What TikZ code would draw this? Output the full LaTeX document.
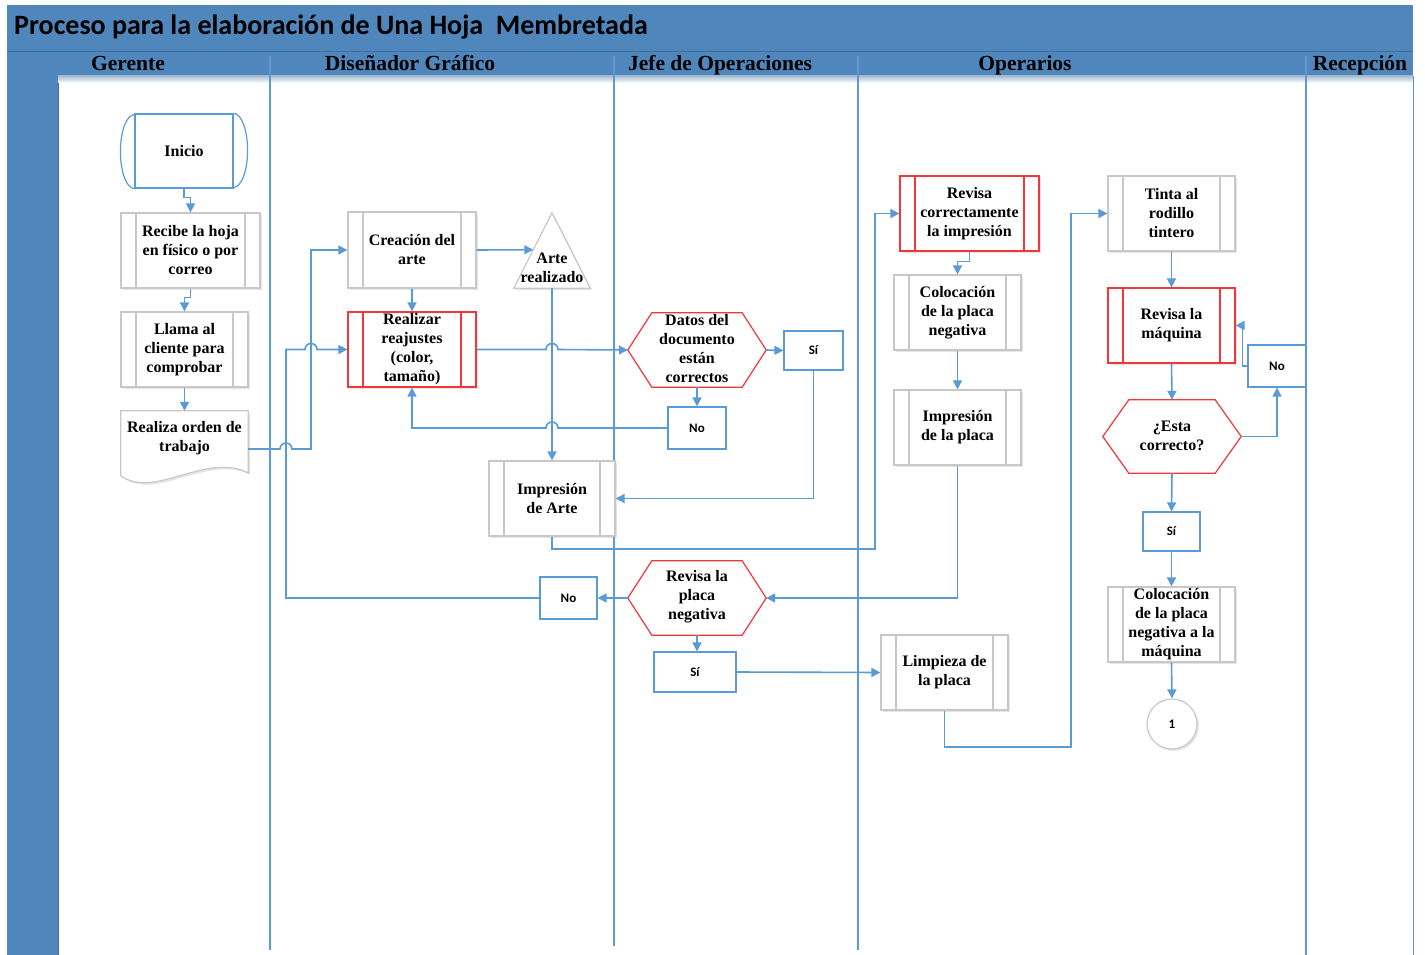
\documentclass[tikz,border=0pt]{standalone}
\usepackage{fontspec}
\setmainfont{Liberation Serif}
\newfontfamily\titlefont{Carlito}
\usetikzlibrary{arrows.meta,shadows,calc}

\definecolor{band}{HTML}{4F87BD}
\definecolor{bandline}{HTML}{3E6F9F}
\definecolor{flow}{HTML}{5B9BD5}
\definecolor{boxline}{HTML}{C8C8C8}
\definecolor{alert}{HTML}{F2363A}

\tikzset{
  x=1pt, y=-1pt,
  every node/.style={inner sep=0pt, align=center},
  txt/.style={font=\bfseries\fontsize{16}{19}\selectfont},
  small/.style={font=\titlefont\bfseries\fontsize{13}{14}\selectfont},
  lanehead/.style={font=\bfseries\fontsize{21.5}{22}\selectfont, anchor=base},
  lane/.style={draw=flow, line width=1.3pt},
  bar colour/.store in=\barcol, bar colour=boxline,
  shade box/.style={drop shadow={shadow xshift=2pt, shadow yshift=-2pt, opacity=0.18, fill=black!55}},
  procbox/.style={txt, draw=boxline, line width=1.2pt, fill=white, shade box,
    minimum width=127pt, minimum height=75pt,
    path picture={\draw[draw=\barcol, line width=1.2pt]
      ([xshift=15pt]path picture bounding box.north west) -- ([xshift=15pt]path picture bounding box.south west)
      ([xshift=-15pt]path picture bounding box.north east) -- ([xshift=-15pt]path picture bounding box.south east);}},
  alertbox/.style={draw=alert, bar colour=alert},
  answer/.style={small, draw=flow, line width=1.2pt, fill=white},
  hexhold/.style={txt, minimum width=138pt, minimum height=74pt},
  hexedge/.style={draw=alert, line width=1.2pt, fill=white},
  conn/.style={draw=flow, line width=1.6pt, -{Triangle[length=9pt,width=9pt]}},
}

% hexagonal decision frame around a placeholder node
\newcommand\hexframe[2]{%
  \draw[hexedge] (#1.west) -- ([xshift=#2]#1.north west) -- ([xshift=-#2]#1.north east)
    -- (#1.east) -- ([xshift=-#2]#1.south east) -- ([xshift=#2]#1.south west) -- cycle;}

\begin{document}
\begin{tikzpicture}
\useasboundingbox (0,0) rectangle (1425,955);
\fill[white] (0,0) rectangle (1425,955);

% ---- swimlane frame ----
\fill[band] (7,5) rectangle (1413,76);
\fill[band] (7,76) rectangle (58,955);
\draw[bandline, line width=1pt] (7,52) -- (1413,52);
\draw[bandline, line width=0.8pt] (58,76) -- (58,955);
\shade[top color=bandline!45, bottom color=white] (58,76) rectangle (1413,83);
\draw[flow, line width=1pt] (1413,76) -- (1413,955);

\node[anchor=base west, font=\titlefont\bfseries\fontsize{28}{28}\selectfont] (title) at (14,35)
  {Proceso para la elaboración de Una Hoja\ \ Membretada};

\node[lanehead] (hGer) at (128,71) {Gerente};
\node[lanehead] (hDis) at (410,71) {Diseñador Gráfico};
\node[lanehead] (hJef) at (720,71) {Jefe de Operaciones};
\node[lanehead] (hOpe) at (1025,71) {Operarios};
\node[lanehead] (hRec) at (1360,71) {Recepción};

\draw[lane] (270,56) -- (270,950);
\draw[lane] (614,56) -- (614,946);
\draw[lane] (858,56) -- (858,950);
\draw[lane] (1306,56) -- (1306,955);

% routing channels
\coordinate (chanA) at (286,0);
\coordinate (chanB) at (311,0);
\coordinate (chanC) at (875,549);
\coordinate (chanD) at (1071,747);

% ---- Gerente ----
\node[txt, draw=flow, line width=1.2pt, fill=white, minimum width=98pt, minimum height=74pt] (inicio) at (184,151) {Inicio};
\draw[flow, line width=1.2pt] (inicio.north east) arc[start angle=90, end angle=-90, x radius=14pt, y radius=37pt];
\draw[flow, line width=1.2pt] (inicio.south west) arc[start angle=270, end angle=90, x radius=14pt, y radius=37pt];

\node[procbox, minimum width=139pt] (recibe) at (190.5,250.5) {Recibe la hoja\\en físico o por\\correo};
\node[procbox] (llama) at (184.5,349.5) {Llama al\\cliente para\\comprobar};

\node[minimum width=127pt, minimum height=76pt] (orden) at (184.5,449) {};
\draw[boxline, line width=1.2pt, fill=white, shade box]
  (orden.north west) -- (orden.north east) -- ([yshift=-62pt]orden.north east)
  .. controls ([xshift=-43pt,yshift=-41pt]orden.north east) and ([xshift=34pt,yshift=-89pt]orden.north west)
  .. ([yshift=-65pt]orden.north west) -- cycle;
\node[txt] (ordentxt) at (184.5,438) {Realiza orden de\\trabajo};

% ---- Diseñador Gráfico ----
\node[procbox, minimum width=128pt, minimum height=76pt] (creacion) at (412,250) {Creación del\\arte};
\node[procbox, alertbox, minimum width=128pt] (reajustes) at (412,349.5) {Realizar\\reajustes\\(color,\\tamaño)};

\node[minimum width=76pt, minimum height=75pt] (arte) at (552,250.5) {};
\draw[boxline, line width=1.2pt, fill=white, shade box] (arte.north) -- (arte.south east) -- (arte.south west) -- cycle;
\node[txt] (artetxt) at (552,268) {Arte\\realizado};

\node[procbox, minimum width=126pt] (impArte) at (552,498.5) {Impresión\\de Arte};

% ---- Jefe de Operaciones ----
\node[hexhold] (datos) at (697,350) {};
\hexframe{datos}{24pt}
\node[txt] (datostxt) at (697,349) {Datos del\\documento\\están\\correctos};
\node[answer, minimum width=59pt, minimum height=39pt] (si1) at (813.5,350.5) {Sí};
\node[answer, minimum width=58pt, minimum height=42pt] (noA) at (697,428) {No};

\node[hexhold] (revPlaca) at (697,598) {};
\hexframe{revPlaca}{24pt}
\node[txt] (revPlacatxt) at (697,597) {Revisa la\\placa\\negativa};
\node[answer, minimum width=57pt, minimum height=42pt] (no2) at (568.5,598) {No};
\node[answer, minimum width=82pt, minimum height=40pt] (si2) at (695,672) {Sí};

% ---- Operarios ----
\node[procbox, alertbox, minimum width=139pt] (revisaImp) at (969.5,213.5) {Revisa\\correctamente\\la impresión};
\node[procbox] (colocacion) at (957.5,312.5) {Colocación\\de la placa\\negativa};
\node[procbox] (impPlaca) at (957.5,427.5) {Impresión\\de la placa};
\node[procbox] (limpieza) at (944.5,672.5) {Limpieza de\\la placa};

\node[procbox] (tinta) at (1171.5,213.5) {Tinta al\\rodillo\\tintero};
\node[procbox, alertbox] (maquina) at (1171.5,325.5) {Revisa la\\máquina};
\node[hexhold, minimum height=73pt] (esta) at (1172,436.5) {};
\hexframe{esta}{26pt}
\node[txt] (estatxt) at (1172,436) {¿Esta\\correcto?};
\node[answer, minimum width=58pt, minimum height=42pt] (no3) at (1277,366) {No};
\node[answer, minimum width=57pt, minimum height=39pt] (si3) at (1171.5,531.5) {Sí};
\node[procbox] (colMaq) at (1171.5,624.5) {Colocación\\de la placa\\negativa a la\\máquina};
\node[draw=boxline, line width=1.2pt, fill=white, shade box, circle, minimum size=50pt, small] (uno) at (1172,724) {1};

% ---- connectors ----
\draw[conn] (inicio.south) -- ++(0,9) -| (recibe.north);
\draw[conn] (recibe.south) -- ++(0,9) -| (llama.north);
\draw[conn] (llama.south) -- (orden.north);

\draw[conn] (orden.east) -- ([xshift=-6pt]orden.east -| chanA)
  arc[start angle=180, end angle=0, radius=6pt] -- (orden.east -| chanB)
  -- (creacion.west -| chanB) -- (creacion.west);
\draw[conn] (no2.west) -- (no2.west -| chanA) -- (reajustes.west -| chanA)
  -- ([xshift=-6pt]reajustes.west -| chanB) arc[start angle=180, end angle=0, radius=6pt]
  -- (reajustes.west);

\draw[conn] (creacion.south) -- (reajustes.north);
\draw[conn] (creacion.east) -- ($(arte.north)!0.49!(arte.south west)$);
\draw[conn] (arte.south) -- (impArte.north);

\draw[conn] (reajustes.east) -- ([xshift=-6pt]reajustes.east -| arte.south)
  arc[start angle=180, end angle=0, radius=6pt] -- (datos.west);
\draw[conn] (datos.east) -- (si1.west);
\draw[conn] (datos.south) -- (noA.north);
\draw[conn] (noA.west) -- ([xshift=6pt]noA.west -| arte.south)
  arc[start angle=0, end angle=180, radius=6pt] -- (noA.west -| reajustes.south) -- (reajustes.south);
\draw[conn] (si1.south) |- (impArte.east);

\draw[conn] (impArte.south) |- (chanC) |- (revisaImp.west);
\draw[conn] (revisaImp.south) -- ++(0,10) -| (colocacion.north);
\draw[conn] (colocacion.south) -- (impPlaca.north);
\draw[conn] (impPlaca.south) |- (revPlaca.east);
\draw[conn] (revPlaca.west) -- (no2.east);
\draw[conn] (revPlaca.south) -- (revPlaca.south |- si2.north);
\draw[conn] (si2.east) -- (limpieza.west);
\draw[conn] (limpieza.south) |- (chanD) |- (tinta.west);

\draw[conn] (tinta.south) -- (maquina.north);
\draw[conn] (maquina.south) -- (esta.north);
\draw[conn] (esta.east) -| (no3.south);
\draw[conn] (no3.west) -- ++(-5,0) |- (maquina.east);
\draw[conn] (esta.south) -- (si3.north);
\draw[conn] (si3.south) -- (colMaq.north);
\draw[conn] (colMaq.south) -- (uno.north);
\end{tikzpicture}
\end{document}
